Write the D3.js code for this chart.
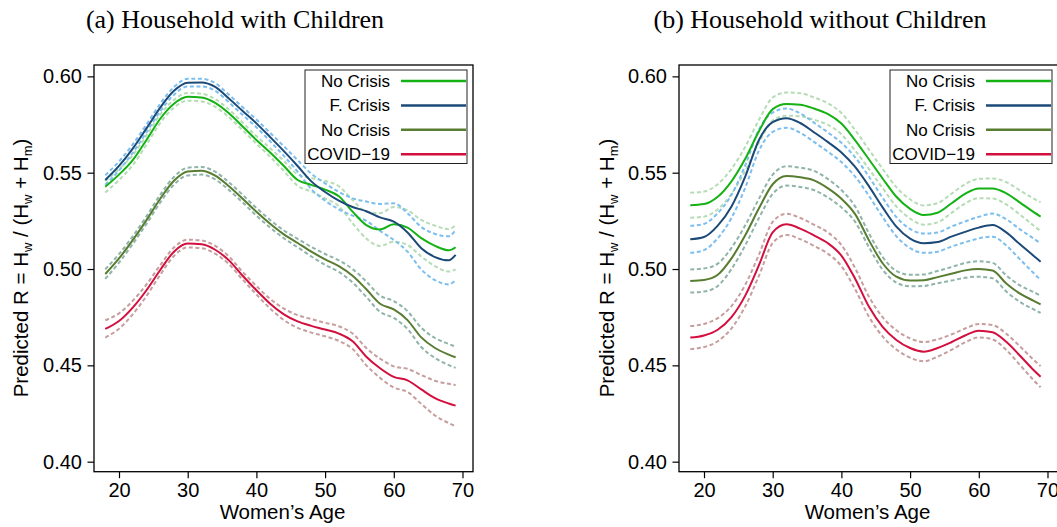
<!DOCTYPE html>
<html>
<head>
<meta charset="utf-8">
<script src="https://cdn.jsdelivr.net/npm/d3@7"></script>
<style>
  body { margin: 0; background: #fff; }
  svg { display: block; }
  .tick text { font-family: "Liberation Sans", Arial, sans-serif; }
</style>
</head>
<body>
<div id="chart"></div>
<script>
// ages shared by every series
let ages = [18, 20, 22, 24, 26, 28, 30, 32, 34, 36, 38, 40, 42, 44, 46, 48, 50, 52, 54, 56, 58, 60, 62, 64, 66, 68, 69]

let xTicks = [20, 30, 40, 50, 60, 70]
let yTicks = [0.40, 0.45, 0.50, 0.55, 0.60]
let legendLabels = ['No Crisis', 'F. Crisis', 'No Crisis', 'COVID\u221219']
let panelTitles = ['(a) Household with Children', '(b) Household without Children']

// (a) with children: estimates and half width of the band
let withNoCrisis = [0.5427, 0.5490, 0.5565, 0.5670, 0.5780, 0.5858, 0.5894, 0.5890, 0.5862, 0.5808, 0.5740, 0.5670, 0.5605, 0.5535, 0.5462, 0.5437, 0.5412, 0.5378, 0.5298, 0.5228, 0.5205, 0.5232, 0.5215, 0.5160, 0.5120, 0.5097, 0.5113]
let withFinCrisis = [0.5462, 0.5535, 0.5625, 0.5730, 0.5838, 0.5925, 0.5967, 0.5968, 0.5945, 0.5885, 0.5820, 0.5756, 0.5685, 0.5612, 0.5535, 0.5455, 0.5400, 0.5355, 0.5322, 0.5300, 0.5268, 0.5246, 0.5190, 0.5108, 0.5062, 0.5045, 0.5073]
let withNoCrisis2 = [0.4974, 0.5055, 0.5150, 0.5254, 0.5365, 0.5458, 0.5506, 0.5510, 0.5485, 0.5430, 0.5365, 0.5297, 0.5235, 0.5180, 0.5135, 0.5090, 0.5050, 0.5015, 0.4965, 0.4895, 0.4820, 0.4790, 0.4735, 0.4645, 0.4590, 0.4556, 0.4542]
let withCovid = [0.4689, 0.4730, 0.4800, 0.4890, 0.4995, 0.5090, 0.5132, 0.5128, 0.5100, 0.5045, 0.4965, 0.4890, 0.4820, 0.4765, 0.4728, 0.4705, 0.4686, 0.4665, 0.4625, 0.4545, 0.4485, 0.4440, 0.4422, 0.4375, 0.4330, 0.4302, 0.4291]
let withNoCrisisCI = [0.003, 0.0028, 0.0026, 0.0024, 0.0022, 0.002, 0.002, 0.002, 0.002, 0.002, 0.002, 0.002, 0.0022, 0.0026, 0.003, 0.0035, 0.0045, 0.0052, 0.006, 0.007, 0.0085, 0.009, 0.009, 0.0095, 0.0105, 0.011, 0.0115]
let withFinCrisisCI = [0.0025, 0.0023, 0.0022, 0.002, 0.002, 0.002, 0.002, 0.002, 0.002, 0.002, 0.002, 0.002, 0.0022, 0.0025, 0.003, 0.004, 0.0045, 0.0045, 0.0045, 0.005, 0.007, 0.0095, 0.01, 0.011, 0.012, 0.0125, 0.013]
let withNoCrisis2CI = [0.0025, 0.0022, 0.002, 0.002, 0.002, 0.002, 0.002, 0.002, 0.002, 0.002, 0.002, 0.002, 0.002, 0.002, 0.0022, 0.0025, 0.0028, 0.003, 0.0035, 0.004, 0.0042, 0.0044, 0.0046, 0.005, 0.0052, 0.0055, 0.0055]
let withCovidCI = [0.0045, 0.004, 0.0035, 0.003, 0.0025, 0.0022, 0.002, 0.002, 0.002, 0.002, 0.002, 0.0022, 0.0025, 0.003, 0.0033, 0.0035, 0.0035, 0.0038, 0.004, 0.0045, 0.005, 0.0055, 0.006, 0.0075, 0.009, 0.0102, 0.0107]

// (b) without children
let withoutNoCrisis = [0.5331, 0.5337, 0.5375, 0.5455, 0.5572, 0.5715, 0.5830, 0.5856, 0.5853, 0.5833, 0.5805, 0.5755, 0.5668, 0.5570, 0.5470, 0.5375, 0.5312, 0.5280, 0.5292, 0.5340, 0.5390, 0.5418, 0.5418, 0.5393, 0.5345, 0.5295, 0.5272]
let withoutFinCrisis = [0.5154, 0.5166, 0.5225, 0.5325, 0.5480, 0.5670, 0.5762, 0.5783, 0.5758, 0.5710, 0.5660, 0.5605, 0.5530, 0.5430, 0.5320, 0.5220, 0.5158, 0.5134, 0.5140, 0.5168, 0.5193, 0.5215, 0.5228, 0.5190, 0.5128, 0.5068, 0.5038]
let withoutNoCrisis2 = [0.4938, 0.4943, 0.4970, 0.5055, 0.5175, 0.5315, 0.5440, 0.5483, 0.5476, 0.5460, 0.5420, 0.5365, 0.5285, 0.5150, 0.5030, 0.4960, 0.4940, 0.4942, 0.4958, 0.4975, 0.4993, 0.5000, 0.4992, 0.4925, 0.4872, 0.4835, 0.4817]
let withoutCovid = [0.4644, 0.4655, 0.4685, 0.4750, 0.4862, 0.5020, 0.5190, 0.5232, 0.5210, 0.5175, 0.5135, 0.5070, 0.4950, 0.4805, 0.4700, 0.4632, 0.4590, 0.4571, 0.4590, 0.4620, 0.4655, 0.4680, 0.4672, 0.4622, 0.4550, 0.4475, 0.4441]
let withoutNoCrisisCI = [0.0065, 0.0065, 0.0065, 0.0065, 0.0062, 0.006, 0.006, 0.006, 0.006, 0.0058, 0.0056, 0.0055, 0.0053, 0.005, 0.005, 0.005, 0.005, 0.005, 0.005, 0.005, 0.005, 0.005, 0.0052, 0.0058, 0.0063, 0.007, 0.0075]
let withoutFinCrisisCI = [0.007, 0.0068, 0.0065, 0.006, 0.0058, 0.0055, 0.005, 0.005, 0.005, 0.005, 0.005, 0.005, 0.005, 0.005, 0.005, 0.005, 0.005, 0.005, 0.005, 0.0052, 0.0054, 0.0056, 0.006, 0.0068, 0.0078, 0.009, 0.0095]
let withoutNoCrisis2CI = [0.006, 0.006, 0.0058, 0.0055, 0.0052, 0.005, 0.005, 0.005, 0.005, 0.005, 0.0048, 0.0045, 0.004, 0.0036, 0.0033, 0.003, 0.003, 0.003, 0.0032, 0.0035, 0.0038, 0.004, 0.004, 0.0042, 0.0043, 0.0045, 0.0045]
let withoutCovidCI = [0.006, 0.006, 0.006, 0.0058, 0.0056, 0.0055, 0.0055, 0.0055, 0.0055, 0.0055, 0.0055, 0.0055, 0.0055, 0.0052, 0.005, 0.005, 0.005, 0.005, 0.0045, 0.004, 0.0036, 0.0035, 0.0037, 0.0042, 0.0048, 0.0053, 0.0055]

let lineColors = ['#14b214', '#1c4a78', '#587d31', '#d20f3d']
let bandColors = ['#b5dcb5', '#7cbfee', '#8fb4aa', '#c69e9e']

let W = 1057, H = 527
let sans = '"Liberation Sans", Arial, Helvetica, sans-serif'
let serif = '"Liberation Serif", "Times New Roman", serif'

let svg = d3.select('#chart').append('svg').attr('width', W).attr('height', H).attr('viewBox', `0 0 ${W} ${H}`)

let panels = [
	{left: 94, title: panelTitles[0], yLabelX: 28,
		series: [[withNoCrisis, withNoCrisisCI], [withFinCrisis, withFinCrisisCI], [withNoCrisis2, withNoCrisis2CI], [withCovid, withCovidCI]]},
	{left: 679, title: panelTitles[1], yLabelX: 614,
		series: [[withoutNoCrisis, withoutNoCrisisCI], [withoutFinCrisis, withoutFinCrisisCI], [withoutNoCrisis2, withoutNoCrisis2CI], [withoutCovid, withoutCovidCI]]}
]

panels.forEach(drawPanel)

function drawPanel (p) {
	let top = 65, bottom = 471.7, plotW = 379
	let x = d3.scaleLinear().domain([16.36, 71.53]).range([p.left, p.left + plotW])
	let y = d3.scaleLinear().domain([0.3948, 0.6059]).range([bottom, top])
	let g = svg.append('g')

	// title, sits a bit left of the plot centre
	g.append('text')
		.attr('x', p.left + plotW / 2 - 48.5).attr('y', 27.5)
		.attr('text-anchor', 'middle')
		.style('font-family', serif).style('font-size', '26px')
		.text(p.title)

	let clipId = 'clip' + p.left
	g.append('clipPath').attr('id', clipId).append('rect')
		.attr('x', p.left).attr('y', top).attr('width', plotW).attr('height', bottom - top)

	let lines = g.append('g').attr('clip-path', `url(#${clipId})`)
	let line = d3.line().curve(d3.curveMonotoneX).x(d => x(d[0])).y(d => y(d[1]))

	// dashed bands first, solid estimates on top
	p.series.forEach((s, i) => {
		let est = s[0], ci = s[1]
		let hi = ages.map((a, k) => [a, est[k] + ci[k]])
		let lo = ages.map((a, k) => [a, est[k] - ci[k]])
		lines.selectAll(null).data([hi, lo]).join('path')
			.attr('d', line)
			.attr('fill', 'none')
			.attr('stroke', bandColors[i])
			.attr('stroke-width', 2)
			.attr('stroke-dasharray', '4,2.6')
	})
	p.series.forEach((s, i) => {
		lines.append('path')
			.attr('d', line(ages.map((a, k) => [a, s[0][k]])))
			.attr('fill', 'none')
			.attr('stroke', lineColors[i])
			.attr('stroke-width', 2)
	})

	// frame
	g.append('rect')
		.attr('x', p.left).attr('y', top).attr('width', plotW).attr('height', bottom - top)
		.attr('fill', 'none').attr('stroke', '#000').attr('stroke-width', 1.3)

	// axes
	let yAxis = g.append('g').attr('transform', `translate(${p.left},0)`)
		.call(d3.axisLeft(y).tickValues(yTicks).tickFormat(d3.format('.2f')).tickSize(6.5).tickPadding(5.5))
	let xAxis = g.append('g').attr('transform', `translate(0,${bottom})`)
		.call(d3.axisBottom(x).tickValues(xTicks).tickSize(6.5).tickPadding(5))
	;[yAxis, xAxis].forEach(a => {
		a.select('.domain').remove()
		a.selectAll('.tick line').attr('stroke', '#000').attr('stroke-width', 1.2)
		a.selectAll('.tick text').attr('fill', '#000').style('font-size', '20px').style('font-family', sans)
	})

	// axis titles
	g.append('text')
		.attr('x', p.left + plotW / 2 - 1).attr('y', 518.5)
		.attr('text-anchor', 'middle')
		.style('font-family', sans).style('font-size', '20.5px')
		.text('Women\u2019s Age')

	let yl = g.append('text')
		.attr('transform', `translate(${p.yLabelX},268) rotate(-90)`)
		.attr('text-anchor', 'middle')
		.style('font-family', sans).style('font-size', '20.5px')
	yl.append('tspan').text('Predicted R = H')
	yl.append('tspan').text('w').attr('dy', 4).style('font-size', '13px')
	yl.append('tspan').text(' / (H').attr('dy', -4)
	yl.append('tspan').text('w').attr('dy', 4).style('font-size', '13px')
	yl.append('tspan').text(' + H').attr('dy', -4)
	yl.append('tspan').text('m').attr('dy', 4).style('font-size', '13px')
	yl.append('tspan').text(')').attr('dy', -4)

	// legend
	let lx = p.left + 211, ly = 70
	let leg = g.append('g').attr('transform', `translate(${lx},${ly})`)
	leg.append('rect').attr('width', 162).attr('height', 93.5)
		.attr('fill', '#fff').attr('stroke', '#222').attr('stroke-width', 1)
	let rows = leg.selectAll('.row').data(legendLabels).join('g').attr('class', 'row')
		.attr('transform', (d, i) => `translate(0,${11 + i * 24.4})`)
	rows.append('text')
		.attr('x', 85).attr('y', 6)
		.attr('text-anchor', 'end')
		.style('font-family', sans).style('font-size', '17px')
		.text(d => d)
	rows.append('line')
		.attr('x1', 96).attr('x2', 161)
		.attr('stroke', (d, i) => lineColors[i])
		.attr('stroke-width', 2.5)
}
</script>
</body>
</html>
